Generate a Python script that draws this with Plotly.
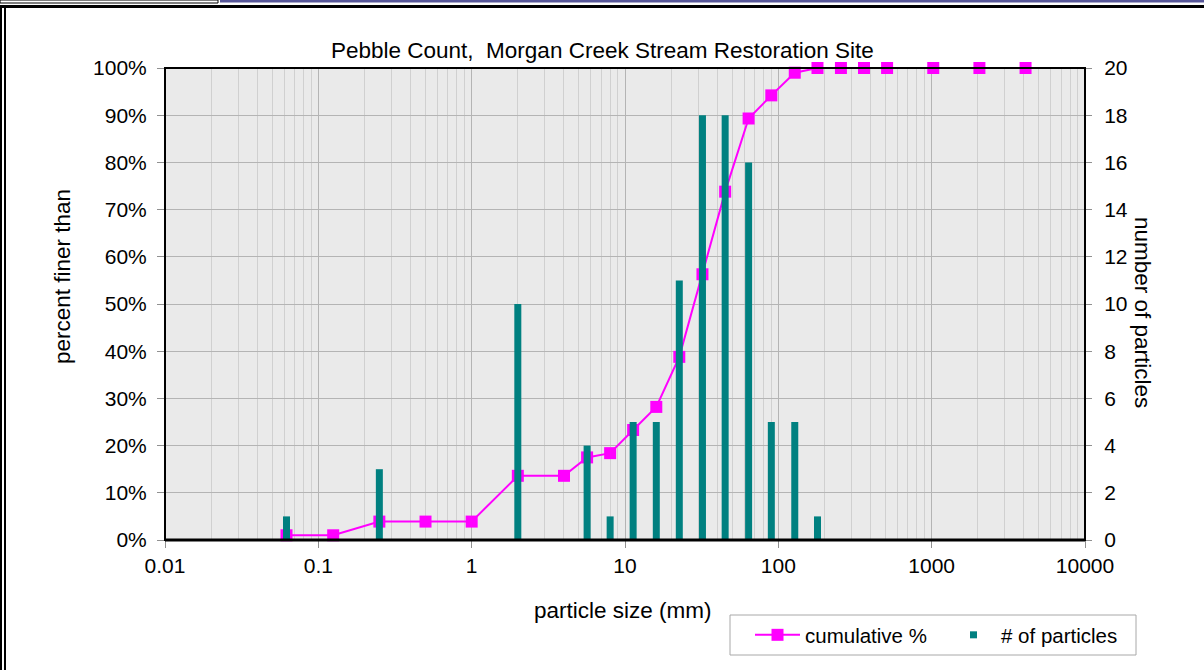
import plotly.graph_objects as go

# ---------------- data ----------------
sizes_mm = [0.062, 0.125, 0.25, 0.5, 1, 2, 4, 5.66, 8, 11.3, 16, 22.6, 32, 45,
            64, 90, 128, 180, 256, 362, 512, 1024, 2048, 4096]
cumulative = [0.01, 0.01, 0.039, 0.039, 0.039, 0.136, 0.136, 0.175, 0.184, 0.233,
              0.282, 0.388, 0.563, 0.738, 0.893, 0.942, 0.99, 1.0, 1.0, 1.0, 1.0,
              1.0, 1.0, 1.0]

bar_sizes_mm = [0.062, 0.25, 2, 5.66, 8, 11.3, 16, 22.6, 32, 45, 64, 90, 128, 180]
particle_counts = [1, 3, 10, 4, 1, 5, 5, 11, 18, 18, 16, 5, 5, 1]

x_tickvals = [0.01, 0.1, 1, 10, 100, 1000, 10000]
x_ticktext = ["0.01", "0.1", "1", "10", "100", "1000", "10000"]
y_tickvals = [0, 0.1, 0.2, 0.3, 0.4, 0.5, 0.6, 0.7, 0.8, 0.9, 1.0]
y2_tickvals = [0, 2, 4, 6, 8, 10, 12, 14, 16, 18, 20]

title_text = "Pebble Count,  Morgan Creek Stream Restoration Site"

# ---------------- layout geometry ----------------
W, H = 1204, 670
L, R, T, B = 165, 1085, 68, 540
FONT = "Liberation Sans, Arial, sans-serif"
MAGENTA = "#FF00FF"
TEAL = "#008080"
TICK_SIZE = 21
TITLE_SIZE = 22.5
LEG_SIZE = 20.5


def px(x):
    return (x - L) / (R - L)


def py(y):
    return (B - y) / (B - T)


# bar segments (vertical stems from 0 to count)
bx, by = [], []
for s, c in zip(bar_sizes_mm, particle_counts):
    bx += [s, s, None]
    by += [0, c, None]

fig = go.Figure()

fig.add_trace(go.Scatter(
    x=sizes_mm, y=cumulative, mode="lines+markers", name="cumulative %",
    line=dict(color=MAGENTA, width=2),
    marker=dict(symbol="square", size=12, color=MAGENTA),
    cliponaxis=False,
))

fig.add_trace(go.Scatter(
    x=bx, y=by, mode="lines", yaxis="y2", showlegend=False,
    line=dict(color=TEAL, width=7), hoverinfo="skip",
))

fig.add_trace(go.Scatter(
    x=[None], y=[None], mode="markers", yaxis="y2", name="# of particles",
    marker=dict(symbol="square", size=7, color=TEAL),
))

grid_major = "#B4B4B4"
grid_minor = "#D0D0D0"

fig.update_layout(
    width=W, height=H,
    margin=dict(l=L, r=W - R, t=T, b=H - B, pad=0),
    paper_bgcolor="white",
    plot_bgcolor="#EAEAEA",
    font=dict(family=FONT, size=TICK_SIZE, color="black"),
    showlegend=True,
    legend=dict(
        orientation="h", x=px(750), y=py(635), xanchor="left", yanchor="middle",
        borderwidth=0, bgcolor="rgba(0,0,0,0)",
        font=dict(size=LEG_SIZE), entrywidth=136, itemwidth=45,
        itemsizing="trace",
    ),
    xaxis=dict(
        type="log", range=[-2, 4],
        tickmode="array", tickvals=x_tickvals, ticktext=x_ticktext,
        showgrid=True, gridcolor=grid_major, gridwidth=1,
        minor=dict(dtick="D1", showgrid=True, gridcolor=grid_minor, gridwidth=1,
                   ticks=""),
        ticks="outside", ticklen=7, tickcolor="#909090",
        showline=False, zeroline=False,
        tickfont=dict(size=TICK_SIZE),
    ),
    yaxis=dict(
        range=[0, 1], tickmode="array", tickvals=y_tickvals, tickformat=".0%",
        showgrid=True, gridcolor=grid_major, gridwidth=1,
        ticks="outside", ticklen=7, tickcolor="#909090",
        showline=False, zeroline=False, ticklabelstandoff=6,
        tickfont=dict(size=TICK_SIZE),
    ),
    yaxis2=dict(
        range=[0, 20], overlaying="y", side="right",
        tickmode="array", tickvals=y2_tickvals,
        showgrid=False, zeroline=False, showline=False,
        ticks="outside", ticklen=6, tickcolor="#909090",
        ticklabelstandoff=8,
        tickfont=dict(size=TICK_SIZE),
    ),
)

shapes = [
    # legend box
    dict(type="rect", xref="paper", yref="paper", x0=px(730), x1=px(1136),
         y0=py(655), y1=py(615), line=dict(color="#A8A8A8", width=1),
         fillcolor="white", layer="below"),
    # plot-area border
    dict(type="rect", xref="paper", yref="paper", x0=0, x1=1, y0=0, y1=1,
         line=dict(color="black", width=2), layer="above"),
    dict(type="line", xref="paper", yref="paper", x0=0, x1=1, y0=0, y1=0,
         line=dict(color="black", width=3), layer="above"),
    # outer sheet frame
    dict(type="rect", xref="paper", yref="paper", x0=px(0), x1=px(218),
         y0=py(3), y1=py(0), line=dict(color="black", width=1), fillcolor="white",
         layer="above"),
    dict(type="rect", xref="paper", yref="paper", x0=px(220), x1=px(1204),
         y0=py(2.5), y1=py(0), line=dict(width=0), fillcolor="#58589A",
         layer="above"),
    dict(type="line", xref="paper", yref="paper", x0=px(0), x1=px(1204),
         y0=py(6.5), y1=py(6.5), line=dict(color="black", width=3), layer="above"),
    dict(type="line", xref="paper", yref="paper", x0=px(1), x1=px(1),
         y0=py(5), y1=py(670), line=dict(color="black", width=2), layer="above"),
    dict(type="line", xref="paper", yref="paper", x0=px(5), x1=px(5),
         y0=py(5), y1=py(670), line=dict(color="black", width=2), layer="above"),
]
fig.update_layout(shapes=shapes)

annotations = [
    dict(text=title_text, x=px(602), y=py(50), xref="paper", yref="paper",
         showarrow=False, xanchor="center", yanchor="middle",
         font=dict(size=TITLE_SIZE)),
    dict(text="percent finer than", x=px(62), y=py(277), xref="paper", yref="paper",
         showarrow=False, textangle=-90, xanchor="center", yanchor="middle",
         font=dict(size=TITLE_SIZE)),
    dict(text="number of particles", x=px(1143), y=py(312), xref="paper",
         yref="paper", showarrow=False, textangle=90, xanchor="center",
         yanchor="middle", font=dict(size=TITLE_SIZE)),
    dict(text="particle size (mm)", x=px(623), y=py(610), xref="paper",
         yref="paper", showarrow=False, xanchor="center", yanchor="middle",
         font=dict(size=TITLE_SIZE)),
]
fig.update_layout(annotations=annotations)

fig.write_html("out.html", config={"displayModeBar": False},
               post_script="document.body.style.margin='0px';")
